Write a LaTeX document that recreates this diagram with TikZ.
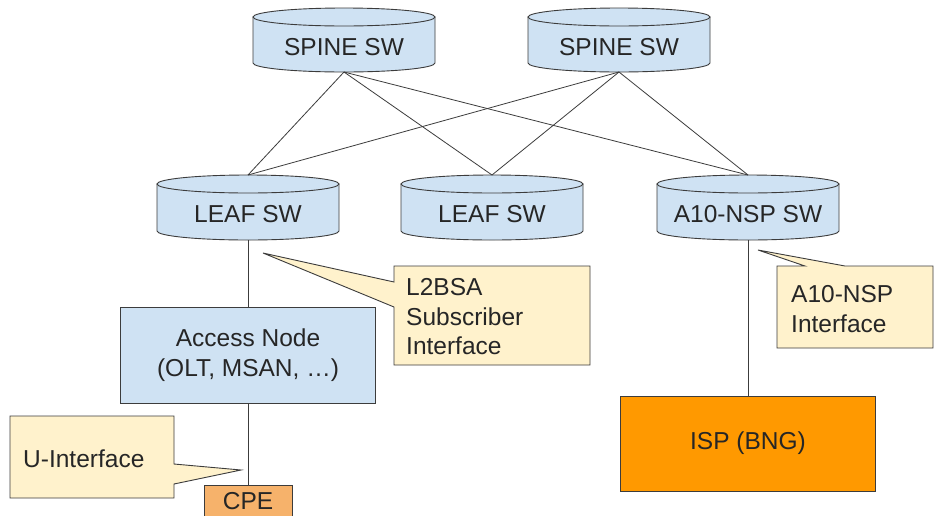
\documentclass[tikz,border=0pt]{standalone}
\usepackage{fontspec}
\setmainfont{Liberation Sans}
\definecolor{cylblue}{HTML}{CFE2F3}
\definecolor{calloutfill}{HTML}{FFF2CC}
\definecolor{cpefill}{HTML}{F6B26B}
\definecolor{ispfill}{HTML}{FF9900}
\definecolor{edge}{HTML}{3C3C3C}
\tikzset{
  cylshape/.style={fill=cylblue, draw=edge, line width=0.9pt},
  boxshape/.style={draw=edge, line width=0.9pt, align=center, inner sep=0pt},
  callout/.style={fill=calloutfill, draw=edge, line width=0.9pt},
  conn/.style={draw=edge, line width=0.8pt},
  lbl/.style={font=\fontsize{24.5}{29.5}\selectfont, inner sep=0pt, text=black!85},
}
\newcommand\mycyl[5]{% name, cx, top, bottom, text
  \filldraw[cylshape] (#2-91,#3+9) -- (#2-91,#4-9)
     arc[start angle=180,end angle=360,x radius=91pt,y radius=9pt] -- (#2+91,#3+9) -- cycle;
  \filldraw[cylshape] (#2,#3+9) ellipse[x radius=91pt,y radius=9pt];
  \node[lbl] (#1) at (#2,{(#3+#4)/2+7}) {#5};
  \coordinate (#1-t) at (#2,#3);
  \coordinate (#1-b) at (#2,#4);
}
\begin{document}
\begin{tikzpicture}[x=1pt,y=-1pt]
\useasboundingbox (0,0) rectangle (934,515);
\clip (0,0) rectangle (934,515);
\fill[white] (0,0) rectangle (934,515);
% cylinders
\mycyl{sp1}{344}{8}{72}{SPINE SW}
\mycyl{sp2}{619}{8}{72}{SPINE SW}
\mycyl{lf1}{248}{175}{240}{LEAF SW}
\mycyl{lf2}{492}{175}{240}{LEAF SW}
\mycyl{a10}{748}{175}{240}{A10-NSP SW}
% mesh
\draw[conn] (sp1-b) -- (lf1-t);
\draw[conn] (sp1-b) -- (lf2-t);
\draw[conn] (sp1-b) -- (a10-t);
\draw[conn] (sp2-b) -- (lf1-t);
\draw[conn] (sp2-b) -- (lf2-t);
\draw[conn] (sp2-b) -- (a10-t);
% boxes
\node[boxshape, lbl, fill=cylblue, minimum width=255pt, minimum height=96pt] (acc) at (248,355) {Access Node\\(OLT, MSAN, …)};
\node[boxshape, lbl, fill=cpefill, minimum width=88pt, minimum height=32pt, anchor=north] (cpe) at (248,485) {CPE};
\node[boxshape, lbl, fill=ispfill, minimum width=255pt, minimum height=95pt] (isp) at (748,443.5) {ISP (BNG)};
\draw[conn] (lf1-b) -- (acc.north);
\draw[conn] (acc.south) -- (cpe.north);
\draw[conn] (a10-b) -- (isp.north);
% callouts
\filldraw[callout] (394,266) -- (590,266) -- (590,365) -- (394,365) -- (394,307) -- (263,253) -- (394,282) -- cycle;
\node[lbl, anchor=west, align=left] (l2bsa) at (406,317) {L2BSA\\Subscriber\\Interface};
\filldraw[callout] (777,266) -- (805,266) -- (758,250) -- (845,266) -- (933,266) -- (933,348) -- (777,348) -- cycle;
\node[lbl, anchor=west, align=left] (a10if) at (791,309) {A10-NSP\\Interface};
\filldraw[callout] (10,416) -- (174,416) -- (174,464) -- (241,470) -- (174,484) -- (174,498) -- (10,498) -- cycle;
\node[lbl, anchor=west] (uif) at (23,459) {U-Interface};
\end{tikzpicture}
\end{document}
